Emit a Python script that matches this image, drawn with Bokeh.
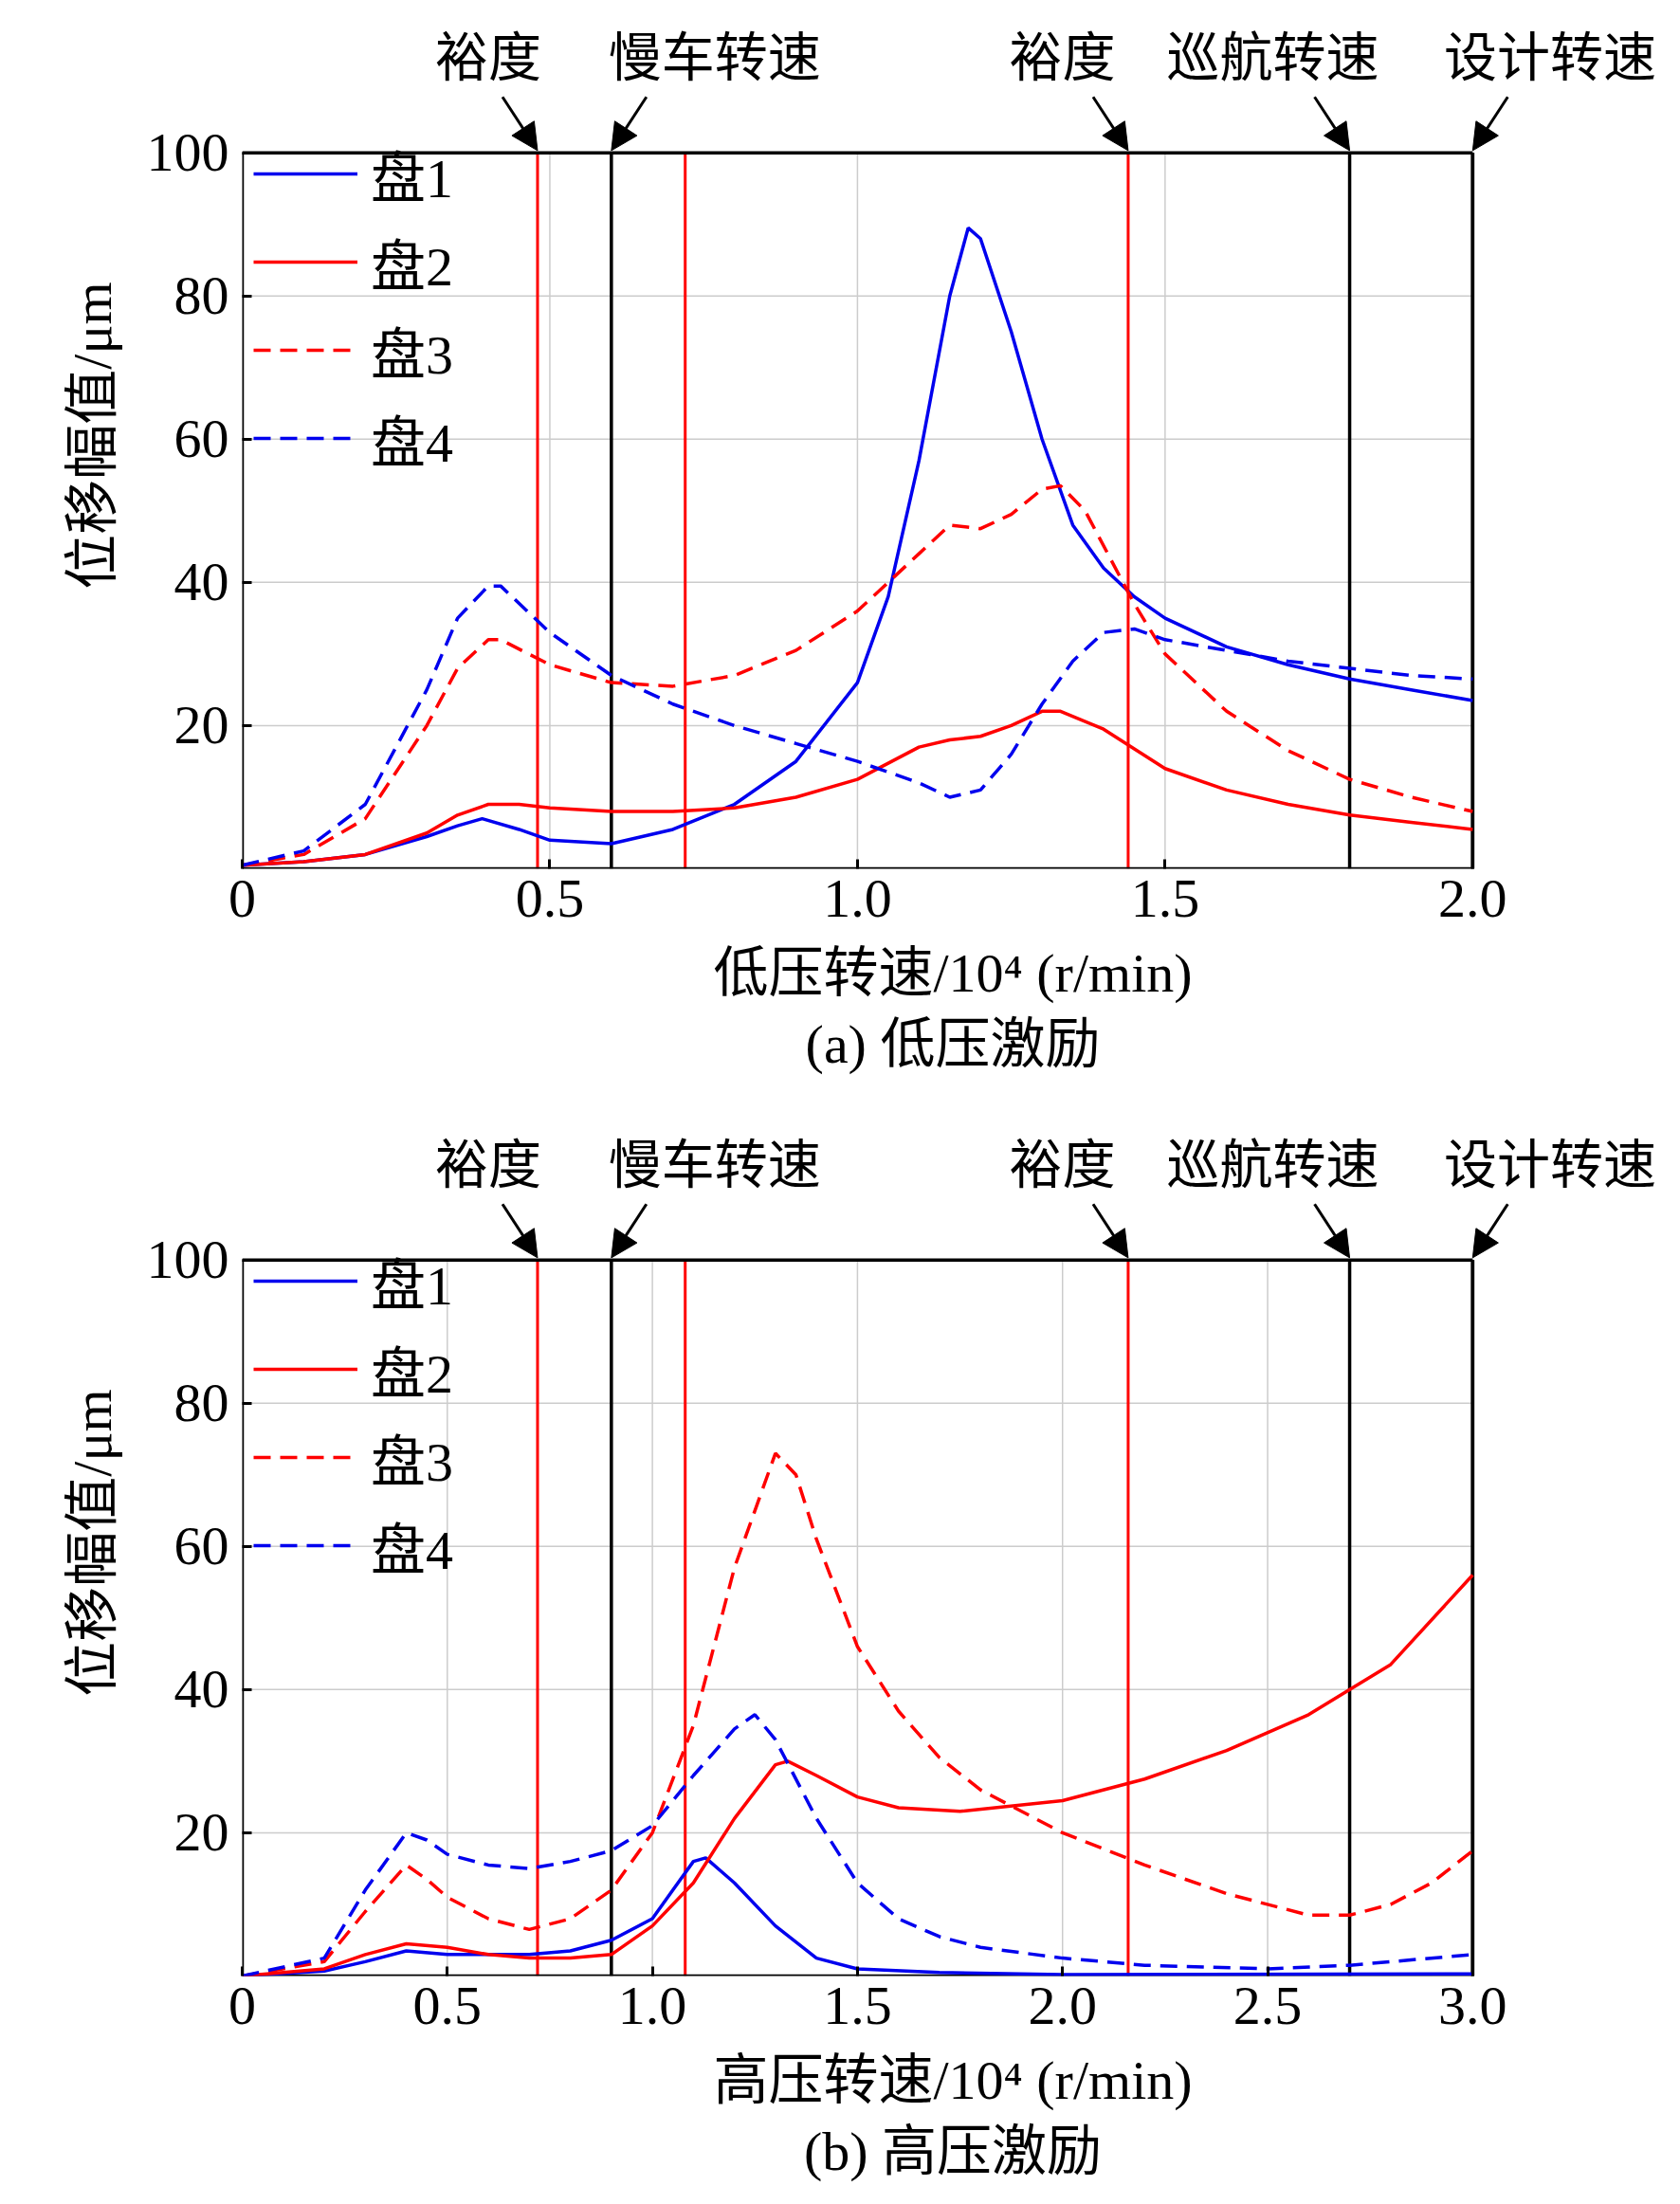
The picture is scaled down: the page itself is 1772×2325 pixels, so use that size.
from bokeh.plotting import figure
from bokeh.models import Arrow, NormalHead, Legend, LegendItem, FixedTicker, Title
from bokeh.layouts import column
from bokeh.core.properties import value
from bokeh.embed import file_html
from bokeh.resources import INLINE

# ---- panel (a) data ----
a_x1 = [0,0.1,0.2,0.3,0.35,0.39,0.45,0.5,0.6,0.7,0.8,0.9,1.0,1.05,1.1,1.15,1.18,1.2,1.25,1.3,1.35,1.4,1.45,1.5,1.6,1.7,1.8,1.9,2.0]
a_y1 = [0.5,1,2,4.5,6,7,5.5,4,3.5,5.5,9,15,26,38,57,80,89.5,88,75,60,48,42,38,35,31,28.5,26.5,25,23.5]
a_x2 = [0,0.1,0.2,0.3,0.35,0.4,0.45,0.5,0.6,0.7,0.8,0.9,1.0,1.1,1.15,1.2,1.25,1.3,1.33,1.4,1.5,1.6,1.7,1.8,1.9,2.0]
a_y2 = [0.5,1,2,5,7.5,9,9,8.5,8,8,8.5,10,12.5,17,18,18.5,20,22,22,19.5,14,11,9,7.5,6.5,5.5]
a_x3 = [0,0.1,0.2,0.3,0.35,0.4,0.42,0.5,0.6,0.7,0.8,0.9,1.0,1.1,1.15,1.2,1.25,1.3,1.33,1.37,1.45,1.5,1.6,1.7,1.8,1.9,2.0]
a_y3 = [0.5,2,7,20,28,32,32,28.5,26,25.5,27,30.5,36,44,48,47.5,49.5,53,53.5,50,37,30,22,16.5,12.5,10,8]
a_x4 = [0,0.1,0.2,0.3,0.35,0.4,0.42,0.5,0.6,0.7,0.8,0.9,1.0,1.1,1.15,1.2,1.25,1.3,1.35,1.4,1.45,1.5,1.6,1.7,1.8,1.9,2.0]
a_y4 = [0.5,2.5,9,25,35,39.5,39.5,33,27,23,20,17.5,15,12,10,11,16,23,29,33,33.5,32,30.5,29,28,27,26.5]
a_red = [0.48, 0.72, 1.44]
a_black = [0.6, 1.8, 2.0]

# ---- panel (b) data ----
b_x1 = [0,0.2,0.3,0.4,0.5,0.6,0.7,0.8,0.9,1.0,1.05,1.1,1.13,1.2,1.3,1.4,1.5,1.7,2.0,3.0]
b_y1 = [0,0.7,2,3.5,3,3,3,3.5,5,8,12,16,16.5,13,7,2.5,1,0.5,0.2,0.3]
b_x2 = [0,0.2,0.3,0.4,0.5,0.6,0.7,0.8,0.9,1.0,1.1,1.2,1.3,1.33,1.4,1.5,1.6,1.75,2.0,2.2,2.4,2.6,2.8,3.0]
b_y2 = [0,1,3,4.5,4,3,2.5,2.5,3,7,13,22,29.5,30,28,25,23.5,23,24.5,27.5,31.5,36.5,43.5,56]
b_x3 = [0,0.2,0.3,0.4,0.45,0.5,0.6,0.7,0.8,0.9,1.0,1.1,1.2,1.3,1.35,1.4,1.5,1.6,1.7,1.8,2.0,2.2,2.4,2.6,2.7,2.8,2.9,3.0]
b_y3 = [0,2,9,15.5,13.5,11,8,6.5,8,12,20,35,57,73,70,61,46,37,30.5,26,20,15.5,11.5,8.5,8.5,10,13,17.5]
b_x4 = [0,0.2,0.3,0.4,0.45,0.5,0.6,0.7,0.8,0.9,1.0,1.1,1.2,1.25,1.3,1.4,1.5,1.6,1.7,1.8,2.0,2.2,2.5,2.7,3.0]
b_y4 = [0,2.5,12,20,19,17,15.5,15,16,17.5,21,28,34.5,36.5,33,22,13,8,5.5,4,2.5,1.5,1,1.5,3]
b_red = [0.72, 1.08, 2.16]
b_black = [0.9, 2.7, 3.0]

series_names = ["盘1", "盘2", "盘3", "盘4"]
y_ticks = [20, 40, 60, 80, 100]
ann_texts = ["裕度", "慢车转速", "裕度", "巡航转速", "设计转速"]

SERIF = "Liberation Serif"
CJK = "Noto Sans CJK SC"
FONT = SERIF + ", " + CJK


def make_panel(xs, reds, blacks, xmax, xticks, xlabel, caption):
    k = xmax / 2.0
    p = figure(width=1756, height=1138, x_range=(0, 2.31 * k), y_range=(0, 121),
               output_backend="svg", toolbar_location=None,
               min_border_left=255, min_border_right=2, min_border_top=2, min_border_bottom=10)
    p.outline_line_color = None
    p.grid.visible = False
    gx = [t for t in xticks if 0 < t < xmax]
    p.segment(x0=gx, y0=[0]*len(gx), x1=gx, y1=[100]*len(gx), line_color="#cccccc", line_width=1.5)
    p.segment(x0=[0]*4, y0=y_ticks[:-1], x1=[xmax]*4, y1=y_ticks[:-1], line_color="#cccccc", line_width=1.5)
    p.segment(x0=reds, y0=[0]*3, x1=reds, y1=[100]*3, line_color="red", line_width=3)
    p.segment(x0=blacks, y0=[0]*3, x1=blacks, y1=[100]*3, line_color="black", line_width=3.5)
    p.segment(x0=[0, 0, 0, xmax], y0=[0, 100, 0, 0], x1=[xmax, xmax, 0, xmax], y1=[0, 100, 100, 100],
              line_color="black", line_width=3.5)
    styles = [("#0000ee", "solid"), ("red", "solid"), ("red", "18 10"), ("#0000ee", "18 10")]
    items = []
    for (x, y), (c, d), nm in zip(zip(xs[0::2], xs[1::2]), styles, series_names):
        r = p.line(x, y, line_color=c, line_dash=d, line_width=3.5)
        items.append(LegendItem(label=nm, renderers=[r]))
    leg = Legend(items=items, location=(12, 412), background_fill_alpha=0, border_line_color=None,
                 label_text_font=FONT, label_text_font_size="58px", label_text_color="black",
                 glyph_width=110, glyph_height=70, label_height=70, spacing=9, padding=8,
                 label_standoff=14)
    p.add_layout(leg)
    tip_x = [reds[0], blacks[0], reds[2], blacks[1], blacks[2]]
    dirs = [-1, 1, -1, -1, 1]
    text_x = [0.4*k, 0.768*k, 1.333*k, 1.675*k, 2.126*k]
    p.text(x=text_x, y=[114.0]*5, text=ann_texts, text_align="center", text_baseline="middle",
           text_font=value(CJK), text_font_size="56px", text_color="black")
    for tx, d in zip(tip_x, dirs):
        p.add_layout(Arrow(end=NormalHead(size=28, fill_color="black", line_color="black"),
                           x_start=tx + d*0.057*k, y_start=107.8, x_end=tx, y_end=100.3,
                           line_width=3, line_color="black"))
    for ax in (p.xaxis[0], p.yaxis[0]):
        ax.axis_line_color = None
        ax.major_tick_in = 10
        ax.major_tick_out = 0
        ax.major_tick_line_width = 3
        ax.minor_tick_line_color = None
        ax.major_label_text_font = FONT
        ax.major_label_text_font_size = "58px"
        ax.major_label_text_color = "black"
        ax.axis_label_text_font = FONT
        ax.axis_label_text_font_size = "58px"
        ax.axis_label_text_font_style = "normal"
        ax.axis_label_text_color = "black"
    p.xaxis.ticker = FixedTicker(ticks=xticks)
    p.yaxis.ticker = FixedTicker(ticks=y_ticks)
    p.xaxis.major_label_overrides = {t: ("0" if t == 0 else "%.1f" % t) for t in xticks}
    p.xaxis.major_label_standoff = 12
    p.yaxis.major_label_standoff = 14
    p.xaxis.axis_label = xlabel
    p.xaxis.axis_label_standoff = 24
    p.yaxis.axis_label = "位移幅值/μm"
    p.yaxis.axis_label_standoff = 22
    p.add_layout(Title(text=caption, align="center", text_font=FONT, text_font_size="58px",
                       text_font_style="normal", text_color="black", standoff=10, offset=-120), "below")
    return p


pa = make_panel([a_x1, a_y1, a_x2, a_y2, a_x3, a_y3, a_x4, a_y4], a_red, a_black, 2.0,
                [0, 0.5, 1.0, 1.5, 2.0], "低压转速/10⁴ (r/min)", "(a) 低压激励")
pb = make_panel([b_x1, b_y1, b_x2, b_y2, b_x3, b_y3, b_x4, b_y4], b_red, b_black, 3.0,
                [0, 0.5, 1.0, 1.5, 2.0, 2.5, 3.0], "高压转速/10⁴ (r/min)", "(b) 高压激励")

layout = column(pa, pb, spacing=30)
open("out.html", "w").write(file_html(layout, INLINE))
